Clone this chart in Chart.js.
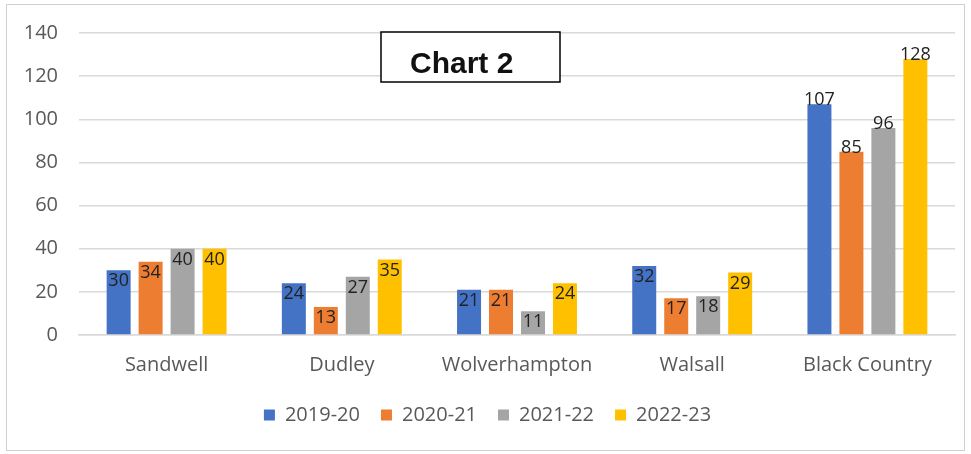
<!DOCTYPE html>
<html>
<head>
<meta charset="utf-8">
<script src="https://cdn.jsdelivr.net/npm/chart.js@4.4.1/dist/chart.umd.min.js"></script>
<style>
  html, body { margin: 0; padding: 0; background: #fff; }
  #wrap { width: 971px; height: 454px; position: relative; }
</style>
</head>
<body>
<div id="wrap"><canvas id="myCanvas"></canvas></div>
<script>
var areas = ["Sandwell", "Dudley", "Wolverhampton", "Walsall", "Black Country"];
var years = ["2019-20", "2020-21", "2021-22", "2022-23"];
var y1920 = [30, 24, 21, 32, 107];
var y2021 = [34, 13, 21, 17, 85];
var y2122 = [40, 27, 11, 18, 96];
var y2223 = [40, 35, 24, 29, 128];
var colours = ["#4472C4", "#ED7D31", "#A5A5A5", "#FFC000"];
var yTicks = [0, 20, 40, 60, 80, 100, 120, 140];
var chartTitle = "Chart 2";

var series = [y1920, y2021, y2122, y2223];
var sets = [];
for (var i = 0; i < years.length; i++) {
  sets.push({
    label: years[i],
    data: series[i],
    backgroundColor: colours[i],
    borderWidth: 0,
    categoryPercentage: 0.73,
    barPercentage: 0.75
  });
}

var font = "'Open Sans', 'Liberation Sans', sans-serif";

// white page + thin grey frame round it
var framePlugin = {
  id: "frame",
  beforeDraw: function(chart) {
    var c = chart.ctx;
    c.save();
    c.fillStyle = "#fff";
    c.fillRect(0, 0, chart.width, chart.height);
    c.strokeStyle = "#D0D0D0";
    c.lineWidth = 1;
    c.strokeRect(6.5, 4.5, 958, 446);
    c.restore();
  }
};

// value labels, near the top of each bar
var labelPlugin = {
  id: "barLabels",
  afterDatasetsDraw: function(chart) {
    var c = chart.ctx;
    c.save();
    c.font = "18px " + font;
    c.fillStyle = "#222";
    c.textAlign = "center";
    chart.data.datasets.forEach(function(ds, di) {
      var meta = chart.getDatasetMeta(di);
      meta.data.forEach(function(bar, j) {
        var v = ds.data[j];
        if (v > 80) {
          c.textBaseline = "bottom";
          c.fillText(v, bar.x, bar.y + 5);
        } else {
          c.textBaseline = "top";
          c.fillText(v, bar.x, bar.y + 2);
        }
      });
    });
    c.restore();
  }
};

// boxed title sitting over the grid
var titlePlugin = {
  id: "boxTitle",
  afterDraw: function(chart) {
    var c = chart.ctx;
    c.save();
    c.fillStyle = "#fff";
    c.fillRect(381, 32, 179, 50);
    c.strokeStyle = "#000";
    c.lineWidth = 1.5;
    c.strokeRect(381, 32, 179, 50);
    c.fillStyle = "#111";
    c.font = "bold 30px 'Liberation Sans', Arial, sans-serif";
    c.textAlign = "left";
    c.textBaseline = "alphabetic";
    c.fillText(chartTitle, 410, 73);
    c.restore();
  }
};

var ctx = document.getElementById("myCanvas").getContext("2d");
var chart = new Chart(ctx, {
  type: "bar",
  data: { labels: areas, datasets: sets },
  options: {
    responsive: true,
    maintainAspectRatio: false,
    animation: false,
    layout: { padding: { left: 20, right: 16, top: 33, bottom: 19 } },
    scales: {
      x: {
        grid: { display: false, drawTicks: false },
        border: { display: true, color: "#D9D9D9", width: 1.5 },
        ticks: { color: "#595959", font: { family: font, size: 20 }, padding: 18 },
        afterFit: function(s) { s.height = 49; }
      },
      y: {
        min: 0,
        max: 140,
        afterBuildTicks: function(s) { s.ticks = yTicks.map(function(v) { return { value: v }; }); },
        grid: { color: "#D9D9D9", lineWidth: 1.5, drawTicks: false },
        border: { display: false },
        ticks: { color: "#595959", font: { family: font, size: 20 }, padding: 21 },
        afterFit: function(s) { s.width = 59; }
      }
    },
    plugins: {
      legend: {
        position: "bottom",
        labels: {
          boxWidth: 11,
          boxHeight: 11,
          padding: 21,
          color: "#595959",
          font: { family: font, size: 20 }
        }
      },
      tooltip: { enabled: false }
    }
  },
  plugins: [framePlugin, labelPlugin, titlePlugin]
});
</script>
</body>
</html>
